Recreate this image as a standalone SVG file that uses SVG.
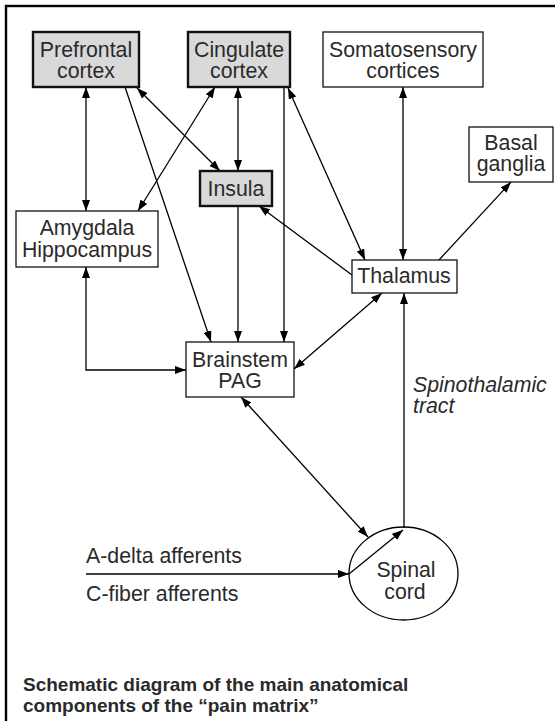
<svg xmlns="http://www.w3.org/2000/svg" width="555" height="721" viewBox="0 0 555 721">
<style>
.box{fill:#fff;stroke:#111;stroke-width:1.3}
.gbox{fill:#d9d9d9;stroke:#111;stroke-width:2.4}
.t{font-family:"Liberation Sans",Arial,sans-serif;font-size:21.3px;fill:#2a2a2a;text-anchor:middle}
.tl{font-family:"Liberation Sans",Arial,sans-serif;font-size:21.3px;fill:#2a2a2a}
.it{font-style:italic}
.title{font-family:"Liberation Sans",Arial,sans-serif;font-size:19px;font-weight:bold;fill:#2a2a2a}
.e{fill:none;stroke:#000;stroke-width:1.3}
</style>
<defs>
<marker id="a" viewBox="0 0 11 8" refX="11" refY="4" markerWidth="11" markerHeight="8" markerUnits="userSpaceOnUse" orient="auto-start-reverse">
<path d="M0,0 L11,4 L0,8 z" fill="#000"/>
</marker>
</defs>
<rect x="0" y="0" width="555" height="721" fill="#fff"/>
<rect x="6" y="6" width="600" height="800" fill="none" stroke="#000" stroke-width="2.4"/>

<g id="connectors">
<path class="e" d="M86,87 L86,211" marker-start="url(#a)" marker-end="url(#a)"/>
<path class="e" d="M125,87 L211,342" marker-end="url(#a)"/>
<path class="e" d="M137,88 L220,171" marker-start="url(#a)" marker-end="url(#a)"/>
<path class="e" d="M215,87 L138,211" marker-start="url(#a)" marker-end="url(#a)"/>
<path class="e" d="M238,87 L238,171" marker-start="url(#a)" marker-end="url(#a)"/>
<path class="e" d="M284,87 L284,342" marker-end="url(#a)"/>
<path class="e" d="M288,88 L365,260" marker-start="url(#a)" marker-end="url(#a)"/>
<path class="e" d="M238,206 L238,342" marker-end="url(#a)"/>
<path class="e" d="M352,275 L259,206" marker-end="url(#a)"/>
<path class="e" d="M403,87 L403,260" marker-start="url(#a)" marker-end="url(#a)"/>
<path class="e" d="M439,260 L511,182" marker-end="url(#a)"/>
<path class="e" d="M86,267 L86,370 L186,370" marker-start="url(#a)" marker-end="url(#a)"/>
<path class="e" d="M382,293 L294,369" marker-start="url(#a)" marker-end="url(#a)"/>
<path class="e" d="M241,397 L368,537" marker-start="url(#a)" marker-end="url(#a)"/>
<path class="e" d="M86,574 L349,574" marker-end="url(#a)"/>
<path class="e" d="M349,574 L403,530" marker-end="url(#a)"/>
<path class="e" d="M404,528 L404,293" marker-end="url(#a)"/>
</g>

<g id="prefrontal">
<rect class="gbox" x="33" y="32" width="106" height="55"/>
<text class="t" x="86" y="57">Prefrontal</text>
<text class="t" x="86" y="78">cortex</text>
</g>
<g id="cingulate">
<rect class="gbox" x="188" y="32" width="102" height="55"/>
<text class="t" x="239" y="57">Cingulate</text>
<text class="t" x="239" y="78">cortex</text>
</g>
<g id="somatosensory">
<rect class="box" x="323" y="32" width="160" height="55"/>
<text class="t" x="403" y="57">Somatosensory</text>
<text class="t" x="403" y="78">cortices</text>
</g>
<g id="basal">
<rect class="box" x="469" y="127" width="84" height="55"/>
<text class="t" x="511" y="150">Basal</text>
<text class="t" x="511" y="171">ganglia</text>
</g>
<g id="insula">
<rect class="gbox" x="200" y="171" width="72" height="35"/>
<text class="t" x="236" y="196">Insula</text>
</g>
<g id="amygdala">
<rect class="box" x="16" y="211" width="142" height="56"/>
<text class="t" x="87" y="235">Amygdala</text>
<text class="t" x="87" y="257">Hippocampus</text>
</g>
<g id="thalamus">
<rect class="box" x="352" y="260" width="105" height="33"/>
<text class="t" x="404" y="283">Thalamus</text>
</g>
<g id="brainstem">
<rect class="box" x="186" y="342" width="108" height="55"/>
<text class="t" x="240" y="367">Brainstem</text>
<text class="t" x="240" y="388">PAG</text>
</g>
<g id="spinal">
<ellipse cx="403.5" cy="573.5" rx="54.5" ry="46.5" fill="none" stroke="#000" stroke-width="1.3"/>
<text class="t" x="406" y="577">Spinal</text>
<text class="t" x="405" y="599">cord</text>
</g>
<g id="labels">
<text class="tl it" x="413" y="392">Spinothalamic</text>
<text class="tl it" x="413" y="413">tract</text>
<text class="tl" x="86" y="563">A-delta afferents</text>
<text class="tl" x="86" y="601">C-fiber afferents</text>
<text class="title" x="23" y="691">Schematic diagram of the main anatomical</text>
<text class="title" x="23" y="712">components of the “pain matrix”</text>
</g>
</svg>
